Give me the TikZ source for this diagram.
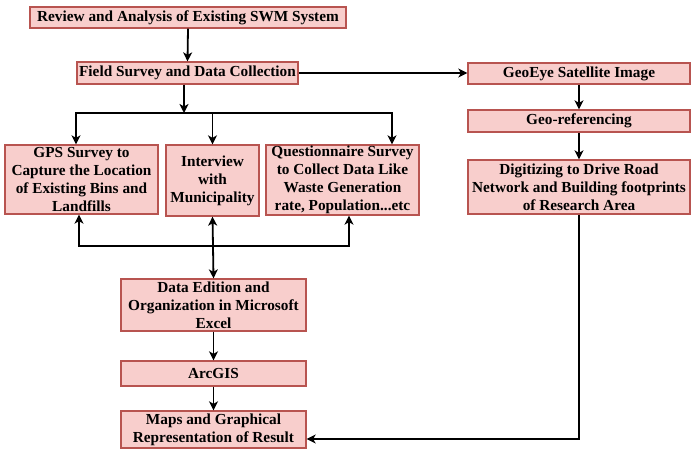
\documentclass[tikz,border=0pt]{standalone}
\usepackage{fontspec}
\setmainfont{Liberation Serif}
\usetikzlibrary{arrows.meta}
\definecolor{boxfill}{HTML}{F8CECC}
\definecolor{boxdraw}{HTML}{B85450}
\tikzset{
  box/.style={draw=boxdraw, fill=boxfill, line width=1.3pt, inner sep=0pt, align=center,
    font=\bfseries\fontsize{15.3}{18}\selectfont},
  arr/.style={line width=1.8pt, -{Stealth[length=9pt,width=9pt,inset=2.5pt]}},
  ln/.style={line width=1.8pt}
}
\begin{document}
\begin{tikzpicture}[x=1pt,y=-1pt]
\useasboundingbox[fill=white] (0,0) rectangle (699,458);
\node[box, minimum width=316pt, minimum height=21pt] (r) at (188,17.5) {Review and Analysis of Existing SWM System};
\node[box, minimum width=221pt, minimum height=22pt] (f) at (187.5,73) {Field Survey and Data Collection};
\node[box, minimum width=153pt, minimum height=69pt] (g) at (81.5,179.5) {GPS Survey to\\Capture the Location\\of Existing Bins and\\Landfills};
\node[box, minimum width=93pt, minimum height=71pt] (i) at (212.5,180.5) {Interview\\with\\Municipality};
\node[box, minimum width=153pt, minimum height=70pt] (q) at (342.5,180) {Questionnaire Survey\\to Collect Data Like\\Waste Generation\\rate, Population...etc};
\node[box, minimum width=222pt, minimum height=21pt] (ge) at (579,73.5) {GeoEye Satellite Image};
\node[box, minimum width=222pt, minimum height=22pt] (gr) at (579,121) {Geo-referencing};
\node[box, minimum width=222pt, minimum height=54pt] (d) at (579,187) {Digitizing to Drive Road\\Network and Building footprints\\of Research Area};
\node[box, minimum width=185pt, minimum height=52pt] (de) at (213.5,305) {Data Edition and\\Organization in Microsoft\\Excel};
\node[box, minimum width=185pt, minimum height=25pt] (a) at (213.5,373.5) {ArcGIS};
\node[box, minimum width=185pt, minimum height=37pt] (m) at (213.5,429.5) {Maps and Graphical\\Representation of Result};
\coordinate (j) at (184,113);
\coordinate (k) at (213,246);
% arrows
\draw[arr] (r.south) -- (f.north);
\draw[arr] ([xshift=-3.5pt]f.south) -- (j);
\draw[arr] (j) -| ([xshift=-5.5pt]g.north);
\draw[arr] (j) -| (i.north);
\draw[arr] (j) -| ([xshift=49.5pt]q.north);
\draw[arr] (f.east) -- (ge.west |- f.east);
\draw[arr] (ge.south) -- (gr.north);
\draw[arr] (gr.south) -- (d.north);
\draw[arr] (d.south) |- ([yshift=-9.5pt]m.east);
\draw[arr] (k) -| ([xshift=-2.5pt]g.south);
\draw[arr] (k) -| ([xshift=6.5pt]q.south);
\draw[arr] (k) -- (i.south);
\draw[arr] (k) -- (de.north);
\draw[arr] (de.south) -- (a.north);
\draw[arr] (a.south) -- (m.north);
\end{tikzpicture}
\end{document}
